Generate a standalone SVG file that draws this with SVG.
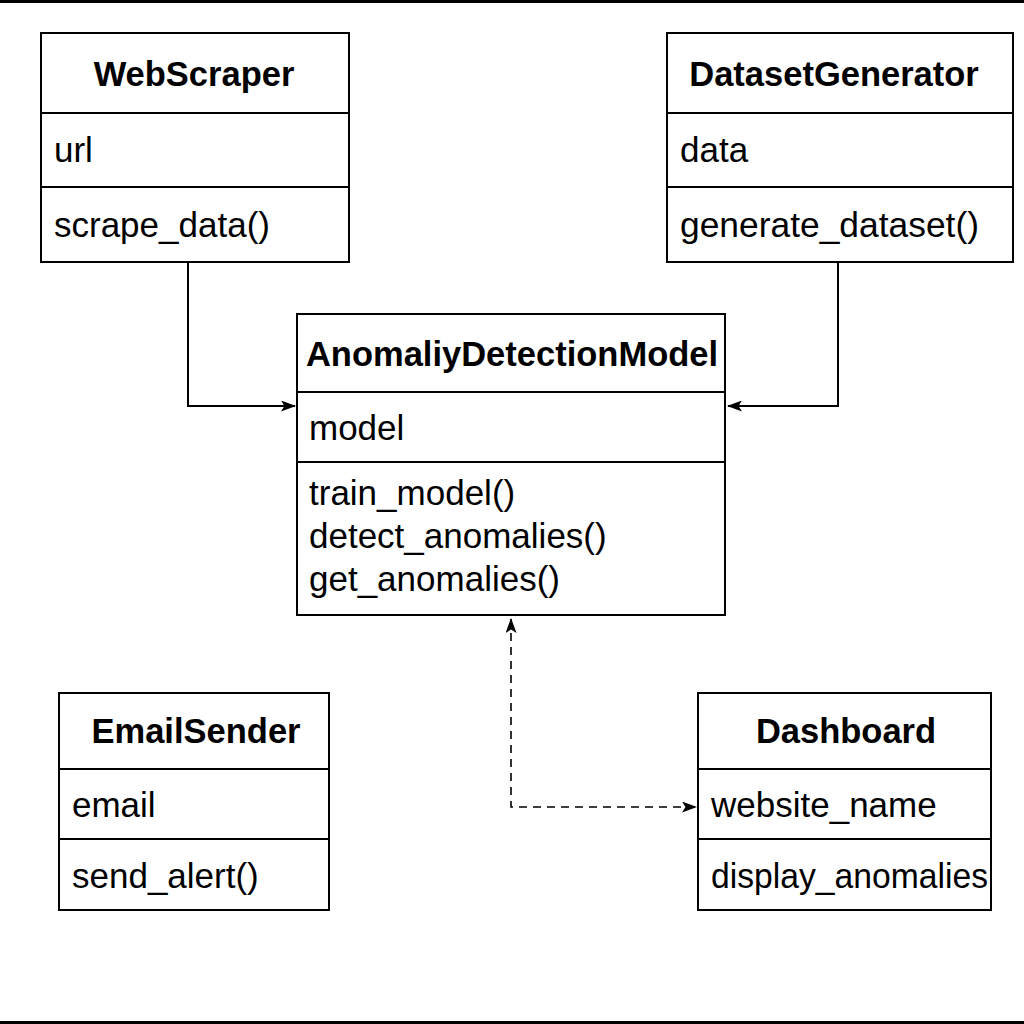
<svg xmlns="http://www.w3.org/2000/svg" width="1024" height="1024" viewBox="0 0 1024 1024">
<style>
.box{fill:#fff;stroke:#000;stroke-width:2}
.div{stroke:#000;stroke-width:2}
.t{font-family:"Liberation Sans",Arial,sans-serif;font-size:34.5px;font-weight:bold;fill:#000;text-anchor:middle}
.a{font-family:"Liberation Sans",Arial,sans-serif;font-size:35px;fill:#000}
.c{fill:none;stroke:#000;stroke-width:2}
.d{fill:none;stroke:#000;stroke-width:1.6;stroke-dasharray:8 6}
</style>
<defs>
<marker id="ah" viewBox="0 0 15 11" refX="14" refY="5.5" markerWidth="15" markerHeight="11" markerUnits="userSpaceOnUse" orient="auto-start-reverse">
<path d="M0,0 L15,5.5 L0,11 L3.5,5.5 Z" fill="#000"/>
</marker>
</defs>
<rect width="1024" height="1024" fill="#fff"/>
<line x1="0" y1="1.5" x2="1024" y2="1.5" stroke="#000" stroke-width="3"/>
<line x1="0" y1="1022.5" x2="1024" y2="1022.5" stroke="#000" stroke-width="3"/>
<g id="connectors">
<path class="c" d="M188,262 V406 H295" marker-end="url(#ah)"/>
<path class="c" d="M838,262 V406 H728" marker-end="url(#ah)"/>
<path class="d" d="M511,619 V807 H696" marker-start="url(#ah)" marker-end="url(#ah)"/>
</g>
<g id="WebScraper">
<rect class="box" x="41" y="33" width="308" height="229"/>
<line class="div" x1="41" y1="113" x2="349" y2="113"/>
<line class="div" x1="41" y1="187" x2="349" y2="187"/>
<text class="t" x="194" y="86">WebScraper</text>
<text class="a" x="54" y="162">url</text>
<text class="a" x="54" y="237">scrape_data()</text>
</g>
<g id="DatasetGenerator">
<rect class="box" x="667" y="33" width="346" height="229"/>
<line class="div" x1="667" y1="113" x2="1013" y2="113"/>
<line class="div" x1="667" y1="187" x2="1013" y2="187"/>
<text class="t" x="834" y="86">DatasetGenerator</text>
<text class="a" x="680" y="162">data</text>
<text class="a" x="680" y="237" textLength="299" lengthAdjust="spacingAndGlyphs">generate_dataset()</text>
</g>
<g id="AnomaliyDetectionModel">
<rect class="box" x="297" y="314" width="428" height="301"/>
<line class="div" x1="297" y1="392" x2="725" y2="392"/>
<line class="div" x1="297" y1="462" x2="725" y2="462"/>
<text class="t" x="512" y="366">AnomaliyDetectionModel</text>
<text class="a" x="309" y="440">model</text>
<text class="a" x="309" y="505">train_model()</text>
<text class="a" x="309" y="548">detect_anomalies()</text>
<text class="a" x="309" y="591">get_anomalies()</text>
</g>
<g id="EmailSender">
<rect class="box" x="59" y="693" width="270" height="217"/>
<line class="div" x1="59" y1="769" x2="329" y2="769"/>
<line class="div" x1="59" y1="839" x2="329" y2="839"/>
<text class="t" x="196" y="743">EmailSender</text>
<text class="a" x="72" y="817">email</text>
<text class="a" x="72" y="888">send_alert()</text>
</g>
<g id="Dashboard">
<rect class="box" x="698" y="693" width="293" height="217"/>
<line class="div" x1="698" y1="769" x2="991" y2="769"/>
<line class="div" x1="698" y1="839" x2="991" y2="839"/>
<text class="t" x="846" y="743">Dashboard</text>
<text class="a" x="711" y="817">website_name</text>
<text class="a" x="711" y="888" textLength="277" lengthAdjust="spacingAndGlyphs">display_anomalies</text>
</g>
</svg>
